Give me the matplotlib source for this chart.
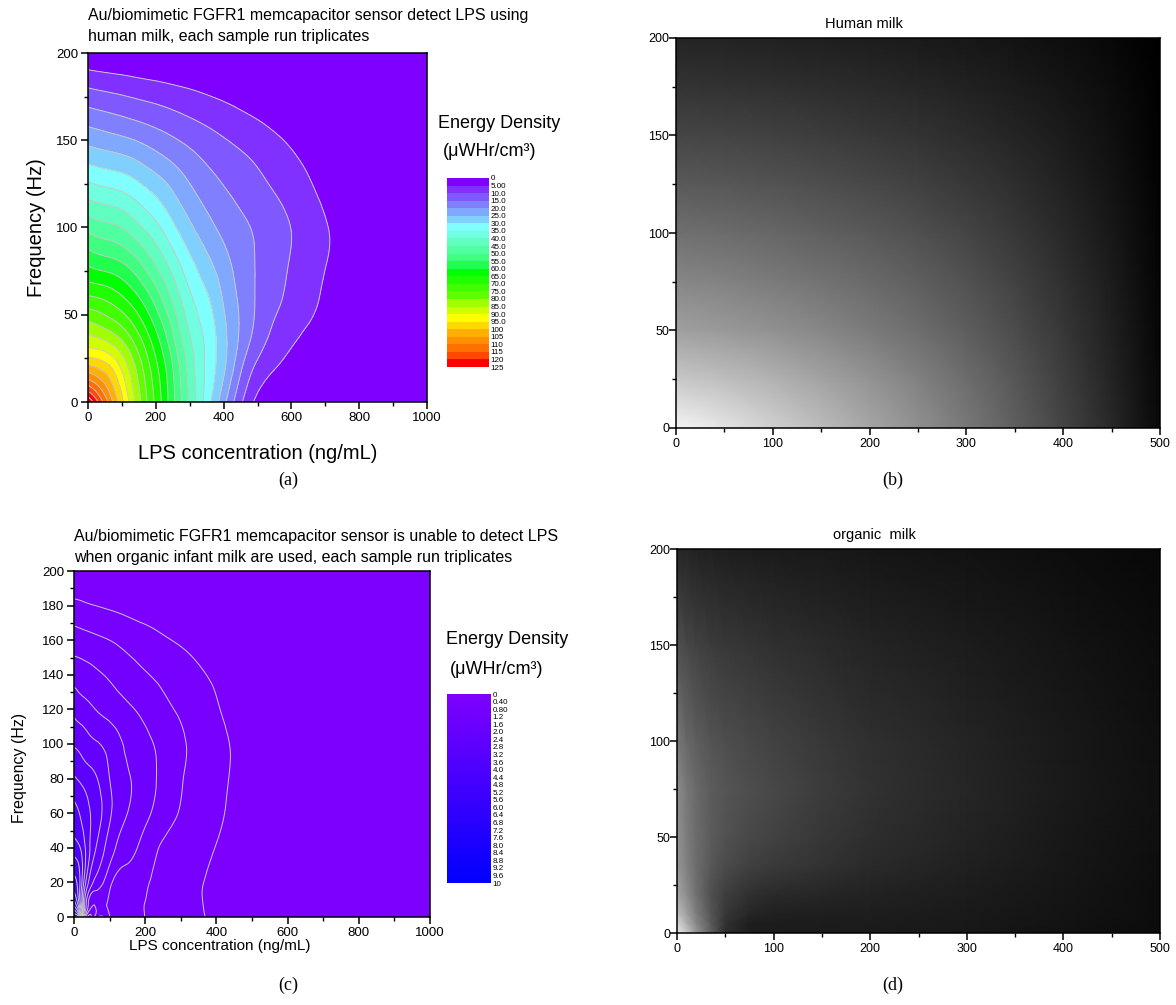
import numpy as np
import matplotlib
matplotlib.use("Agg")
import matplotlib.pyplot as plt
import matplotlib.tri as mtri
from matplotlib.colors import ListedColormap, BoundaryNorm
from matplotlib.cm import ScalarMappable
from matplotlib.ticker import MultipleLocator

plt.rcParams['font.family'] = ['Liberation Sans', 'DejaVu Sans']

# ---- (a) human milk: energy density ----
# (values outside the outermost 5.0 line keep falling; they all show as the first band)
lps_a = [0, 50, 100, 150, 200, 250, 300, 350, 400, 450, 500, 550, 600, 650, 700, 750, 800, 1000]
freq_a = [0, 20, 40, 60, 80, 100, 120, 140, 160, 180, 200]
energy_a = [
    [130, 113, 96.3, 81.7, 68.8, 56.5, 44.1, 32.7, 21.6, 11, 3.5, -2, -7, -12, -17, -22, -27, -47],
    [101, 97.4, 88.9, 77.6, 66.3, 55, 42.9, 34, 26, 16, 8.9, 5.4, 2, -1.4, -4.8, -8.2, -11.6, -25],
    [84.3, 81.5, 77, 69.5, 60.5, 50.1, 39.7, 33.6, 26.4, 19.3, 13.3, 9.0, 6.4, 4.3, 2.2, 0.1, -2, -10.4],
    [70.6, 69, 65.5, 60.1, 52.7, 43.9, 35.9, 30.7, 24.4, 19, 14.4, 11.3, 8.7, 6.5, 4.2, 1.9, -0.4, -9.6],
    [58.9, 57, 55, 50.5, 44.2, 37.5, 31.3, 26.4, 21.8, 17.9, 14.5, 12, 9.6, 7.4, 5.2, 3.0, 0.8, -8],
    [48.3, 46.6, 44.9, 40.9, 36.4, 31.1, 26, 21.9, 18.6, 16.2, 14.1, 12.0, 9.9, 7.7, 5.4, 3.2, 0.9, -8.4],
    [38, 36.6, 35.3, 32.5, 29.2, 25.2, 21.2, 18.0, 15.6, 13.7, 11.8, 10.0, 8.1, 6.0, 3.8, 1.6, -0.7, -11],
    [28.2, 27, 25.9, 24, 21.5, 19, 16.5, 14.2, 12.4, 10.8, 9.2, 7.5, 5.7, 3.9, 2.0, 0.1, -1.8, -9],
    [19, 17.8, 16.6, 15.3, 13.9, 12.4, 10.9, 9.5, 8.1, 6.7, 5.4, 4.0, 2.6, 1.2, -0.2, -1.6, -3, -8.6],
    [10, 9.1, 8.3, 7.4, 6.6, 5.7, 4.8, 3.8, 2.8, 1.8, 0.8, -0.2, -1.2, -2.2, -3.2, -4.2, -5.2, -9.2],
    [0, -0.5, -1, -1.5, -2, -2.5, -3, -3.5, -4, -4.5, -5, -5.5, -6, -6.5, -7, -7.5, -8, -10],
]
levels_a = np.arange(0, 126, 5)

# ---- (c) organic infant milk ----
lps_c = [0, 15, 30, 60, 100, 150, 200, 250, 300, 350, 400, 450, 500, 600, 800, 1000]
freq_c = [0, 8, 20, 40, 60, 80, 100, 120, 140, 160, 180, 200]
energy_c = [
    [6.8, 6.0, 1.5, 1.35, 1.22, 1.0, 0.79, 0.67, 0.55, 0.43, 0.35, 0.27, 0.19, 0.03, -0.3, -0.6],
    [5.4, 4.3, 2.4, 1.25, 1.08, 0.94, 0.79, 0.67, 0.55, 0.42, 0.34, 0.26, 0.18, 0.02, -0.3, -0.6],
    [4.55, 4.1, 3.0, 1.9, 1.31, 1.05, 0.86, 0.73, 0.61, 0.43, 0.35, 0.27, 0.19, 0.03, -0.3, -0.6],
    [3.8, 3.65, 3.25, 2.43, 1.8, 1.36, 1.03, 0.76, 0.64, 0.51, 0.39, 0.28, 0.18, 0.0, -0.35, -0.7],
    [3.35, 3.2, 3.0, 2.64, 2.07, 1.6, 1.3, 1.0, 0.77, 0.63, 0.47, 0.33, 0.21, 0.0, -0.4, -0.8],
    [2.85, 2.75, 2.65, 2.45, 2.0, 1.64, 1.37, 1.1, 0.83, 0.67, 0.52, 0.35, 0.22, 0.0, -0.4, -0.8],
    [2.36, 2.3, 2.2, 2.05, 1.85, 1.53, 1.3, 1.09, 0.86, 0.69, 0.52, 0.36, 0.22, 0.0, -0.4, -0.8],
    [1.9, 1.8, 1.74, 1.6, 1.45, 1.27, 1.09, 0.9, 0.74, 0.58, 0.43, 0.3, 0.18, -0.04, -0.45, -0.85],
    [1.44, 1.4, 1.36, 1.27, 1.15, 0.98, 0.83, 0.71, 0.58, 0.45, 0.34, 0.23, 0.12, -0.1, -0.5, -0.9],
    [1.0, 0.97, 0.94, 0.88, 0.8, 0.67, 0.56, 0.45, 0.35, 0.25, 0.15, 0.05, -0.05, -0.25, -0.6, -1.0],
    [0.5, 0.48, 0.45, 0.4, 0.34, 0.26, 0.18, 0.1, 0.02, -0.06, -0.14, -0.22, -0.3, -0.45, -0.75, -1.1],
    [0.0, -0.02, -0.05, -0.1, -0.15, -0.22, -0.3, -0.37, -0.44, -0.5, -0.57, -0.64, -0.7, -0.8, -1.0, -1.2],
]
levels_c = np.round(np.arange(0, 10.01, 0.4), 2)

# ---- (b) human milk image, grey level 0-255 ----
lps_b = [0, 50, 100, 150, 200, 250, 300, 350, 400, 450, 500]
freq_b = [0, 25, 50, 75, 100, 125, 150, 175, 200]
grey_b = [
    [245, 228, 208, 188, 166, 144, 120, 95, 68, 40, 8],
    [200, 190, 178, 163, 147, 129, 109, 87, 62, 36, 7],
    [160, 153, 145, 135, 123, 110, 94, 76, 55, 32, 6],
    [135, 130, 123, 115, 106, 95, 82, 66, 48, 28, 5],
    [112, 108, 103, 96, 89, 80, 69, 56, 41, 24, 4],
    [90, 87, 83, 78, 72, 65, 56, 46, 34, 20, 3],
    [70, 68, 65, 61, 56, 51, 44, 36, 27, 16, 2],
    [52, 50, 48, 45, 42, 38, 33, 27, 20, 12, 1],
    [36, 35, 33, 31, 29, 26, 23, 19, 14, 8, 0],
]

# ---- (d) organic milk image ----
lps_d = [0, 10, 20, 35, 50, 75, 100, 150, 200, 300, 400, 500]
freq_d = [0, 5, 10, 20, 35, 50, 75, 100, 150, 200]
grey_d = [
    [235, 200, 150, 95, 45, 30, 28, 27, 27, 24, 18, 12],
    [215, 175, 135, 90, 50, 30, 28, 28, 28, 25, 19, 12],
    [190, 160, 125, 85, 55, 38, 33, 31, 30, 26, 20, 13],
    [165, 140, 112, 80, 62, 48, 42, 38, 34, 28, 21, 13],
    [150, 128, 108, 88, 75, 64, 58, 50, 42, 32, 23, 14],
    [145, 124, 108, 92, 82, 72, 66, 55, 46, 35, 24, 15],
    [140, 120, 106, 92, 85, 78, 72, 60, 50, 38, 26, 16],
    [120, 104, 94, 84, 78, 72, 66, 56, 47, 36, 25, 15],
    [80, 72, 66, 60, 56, 52, 48, 42, 36, 28, 20, 12],
    [40, 37, 34, 32, 30, 28, 27, 25, 22, 18, 13, 8],
]

title_a = "Au/biomimetic FGFR1 memcapacitor sensor detect LPS using\nhuman milk, each sample run triplicates"
title_c = ("Au/biomimetic FGFR1 memcapacitor sensor is unable to detect LPS\n"
           "when organic infant milk are used, each sample run triplicates")

# band colours of the Origin palettes
colors_a = ['#8000ff', '#8030ff', '#8058ff', '#8080ff', '#80a8ff', '#80d0ff', '#80ffff',
            '#70ffe0', '#60ffc0', '#50ffa0', '#40ff80', '#20ff50', '#00ff00', '#20ff00',
            '#40ff00', '#60ff00', '#a0ff00', '#d0ff00', '#ffff00', '#ffd800', '#ffb000',
            '#ff9000', '#ff7000', '#ff4800', '#ff0000']
t = (np.arange(25) + 0.5) / 25
colors_c = [(0.5 * (1 - v), 0, 1) for v in t]


def grid_triangles(nx, ny):
    tris = []
    for j in range(ny - 1):
        for i in range(nx - 1):
            k = j * nx + i
            tris.append([k, k + 1, k + nx + 1])
            tris.append([k, k + nx + 1, k + nx])
    return np.array(tris)


def smooth_field(xs, ys, zs, sx, sy):
    X, Y = np.meshgrid(xs, ys)
    Z = np.asarray(zs, float).ravel()
    tri = mtri.Triangulation(X.ravel() / sx, Y.ravel() / sy, grid_triangles(len(xs), len(ys)))
    interp = mtri.CubicTriInterpolator(tri, Z, kind='min_E')
    fine, zf = mtri.UniformTriRefiner(tri).refine_field(Z, triinterpolator=interp, subdiv=4)
    return mtri.Triangulation(fine.x * sx, fine.y * sy, fine.triangles), zf


def style_axes(ax, fs=9):
    for s in ax.spines.values():
        s.set_linewidth(1.1)
    ax.tick_params(which='major', direction='out', length=5, width=1.1, labelsize=fs, pad=2)
    ax.tick_params(which='minor', direction='out', length=3, width=1.0)


def fmt_label(v, sig):
    if v == 0:
        return "0"
    return (("%#." + str(sig) + "g") % v).rstrip('.')


def draw_colorbar(fig, rect, levels, colors, sig):
    cax = fig.add_axes(rect)
    sm = ScalarMappable(norm=BoundaryNorm(levels, len(colors)), cmap=ListedColormap(colors))
    cb = fig.colorbar(sm, cax=cax, ticks=levels, spacing='proportional')
    cb.outline.set_visible(False)
    cax.invert_yaxis()
    cb.set_ticklabels([fmt_label(v, sig) for v in levels])
    cax.tick_params(length=0, labelsize=5.8, pad=1)
    return cb


fig = plt.figure(figsize=(11.76, 10.05), dpi=100)
W, H = 1176, 1005


def rect(x0, y0, x1, y1):
    return [x0 / W, 1 - y1 / H, (x1 - x0) / W, (y1 - y0) / H]


def contour_panel(ax, xs, ys, zs, levels, colors):
    tri, z = smooth_field(xs, ys, zs, 1000, 200)
    cmap = ListedColormap(colors)
    cmap.set_under(colors[0])
    cmap.set_over(colors[-1])
    ax.tricontourf(tri, z, levels=levels, cmap=cmap,
                   norm=BoundaryNorm(levels, len(colors)), extend='both')
    ax.tricontour(tri, z, levels=levels[1:], colors='#c8c8c8', linewidths=0.7)
    ax.set_xlim(0, 1000)
    ax.set_ylim(0, 200)
    ax.xaxis.set_major_locator(MultipleLocator(200))
    ax.xaxis.set_minor_locator(MultipleLocator(100))


# ---------------- (a) ----------------
ax = fig.add_axes(rect(88, 53, 427, 402))
contour_panel(ax, lps_a, freq_a, energy_a, levels_a, colors_a)
ax.yaxis.set_major_locator(MultipleLocator(50))
ax.yaxis.set_minor_locator(MultipleLocator(25))
style_axes(ax, 9.5)
ax.set_xlabel("LPS concentration (ng/mL)", fontsize=14.5, va='center')
ax.xaxis.set_label_coords(0.5, -51 / 349)
ax.set_ylabel("Frequency (Hz)", fontsize=14.5, va='center')
ax.yaxis.set_label_coords(-51 / 339, 0.5)
fig.text(88 / W, 1 - 26 / H, title_a, fontsize=11.5, va='center', ha='left', linespacing=1.5)
fig.text(438 / W, 1 - 123 / H, "Energy Density", fontsize=13, va='center')
fig.text(443 / W, 1 - 151 / H, "(\u03bcWHr/cm\u00b3)", fontsize=13, va='center')
draw_colorbar(fig, rect(447, 178, 489, 367), levels_a, colors_a, 3)

# ---------------- (c) ----------------
ax = fig.add_axes(rect(74, 571, 430, 917))
contour_panel(ax, lps_c, freq_c, energy_c, levels_c, colors_c)
ax.yaxis.set_major_locator(MultipleLocator(20))
ax.yaxis.set_minor_locator(MultipleLocator(10))
style_axes(ax, 9.5)
ax.set_xlabel("LPS concentration (ng/mL)", fontsize=11, va='center')
ax.xaxis.set_label_coords(0.41, -29 / 346)
ax.set_ylabel("Frequency (Hz)", fontsize=11.5, va='center')
ax.yaxis.set_label_coords(-54 / 356, 0.43)
fig.text(74 / W, 1 - 547 / H, title_c, fontsize=11.5, va='center', ha='left', linespacing=1.5)
fig.text(446 / W, 1 - 640 / H, "Energy Density", fontsize=13, va='center')
fig.text(450 / W, 1 - 670 / H, "(\u03bcWHr/cm\u00b3)", fontsize=13, va='center')
draw_colorbar(fig, rect(447, 694, 491, 883), levels_c, colors_c, 2)


def image_panel(ax, xs, ys, grey, title, tx):
    ax.pcolormesh(xs, ys, np.array(grey), cmap='gray', vmin=0, vmax=255, shading='gouraud')
    ax.set_xlim(0, 500)
    ax.set_ylim(0, 200)
    ax.xaxis.set_major_locator(MultipleLocator(100))
    ax.xaxis.set_minor_locator(MultipleLocator(50))
    ax.yaxis.set_major_locator(MultipleLocator(50))
    ax.yaxis.set_minor_locator(MultipleLocator(25))
    style_axes(ax, 9)
    ax.tick_params(axis='y', pad=0)
    ax.set_title(title, fontsize=10.5, x=tx, pad=7)


image_panel(fig.add_axes(rect(676, 38, 1160, 428)), lps_b, freq_b, grey_b, "Human milk", 0.388)
image_panel(fig.add_axes(rect(677, 549, 1160, 933)), lps_d, freq_d, grey_d, "organic  milk", 0.408)

# captions
for lab, x, y in [("(a)", 288, 480), ("(b)", 893, 480), ("(c)", 288, 985), ("(d)", 893, 985)]:
    fig.text(x / W, 1 - y / H, lab, fontsize=13, family='Liberation Serif', ha='center', va='center')

fig.savefig("out.png", dpi=100)
